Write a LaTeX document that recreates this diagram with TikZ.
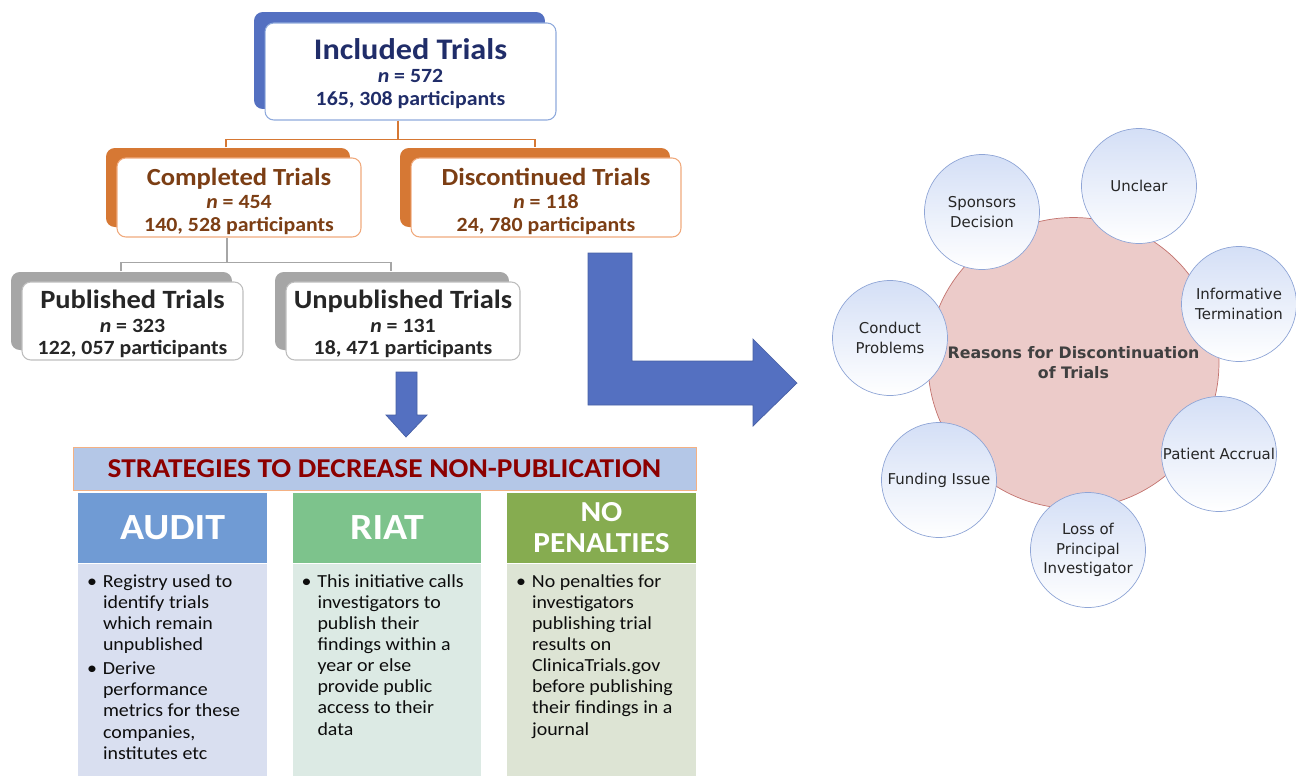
\documentclass[tikz,border=0pt]{standalone}
\usepackage{fontspec}
\setmainfont{Carlito}[FakeStretch=1.08]
\newfontfamily\verdana{DejaVu Sans}
\usepackage{xcolor}
\usetikzlibrary{positioning, calc, shadows}
\definecolor{incblue}{RGB}{84,112,193}
\definecolor{incline}{RGB}{143,170,220}
\definecolor{incnavy}{RGB}{32,45,105}
\definecolor{orgback}{RGB}{214,120,52}
\definecolor{orgline}{RGB}{240,170,125}
\definecolor{orgtext}{RGB}{124,62,20}
\definecolor{grayback}{RGB}{166,166,166}
\definecolor{grayline}{RGB}{190,190,190}
\definecolor{graytext}{RGB}{38,38,38}
\definecolor{bannerfill}{RGB}{180,199,231}
\definecolor{bannerline}{RGB}{244,177,131}
\definecolor{bannertext}{RGB}{140,0,0}
\definecolor{auditdark}{RGB}{112,155,212}
\definecolor{auditlight}{RGB}{217,223,240}
\definecolor{riatdark}{RGB}{125,195,140}
\definecolor{riatlight}{RGB}{220,234,228}
\definecolor{penaldark}{RGB}{134,172,80}
\definecolor{penallight}{RGB}{221,228,212}
\definecolor{reasonfill}{RGB}{236,203,201}
\definecolor{reasonline}{RGB}{195,115,110}
\definecolor{bubbletop}{RGB}{212,223,246}
\definecolor{bubbleline}{RGB}{143,165,214}
\definecolor{bubbletext}{RGB}{38,38,38}
\newcommand{\bodyfont}{\fontsize{10.5}{12}\selectfont}

\begin{document}
\begin{tikzpicture}[
    x=0.02cm, y=-0.02cm,
    trialbox/.style  = {draw, rounded corners=5pt, fill=white, align=center,
                        inner sep=0pt, line width=0.6pt,
                        font=\bfseries\fontsize{11.5}{13}\selectfont},
    incbox/.style    = {trialbox, draw=incline, text=incnavy,
                        general shadow={fill=incblue, shadow xshift=-0.22cm, shadow yshift=0.22cm}},
    orgbox/.style    = {trialbox, draw=orgline, text=orgtext,
                        general shadow={fill=orgback, shadow xshift=-0.22cm, shadow yshift=0.2cm}},
    graybox/.style   = {trialbox, draw=grayline, text=graytext,
                        general shadow={fill=grayback, shadow xshift=-0.22cm, shadow yshift=0.2cm}},
    orgsplit/.style  = {draw=orgback, line width=0.6pt},
    graysplit/.style = {draw=grayback, line width=0.6pt},
    blockarrow/.style= {fill=incblue, draw=incblue!85!black, line width=0.4pt},
    colhead/.style   = {minimum width=3.78cm, minimum height=1.4cm, inner sep=0pt,
                        text=white, align=center, font=\bfseries\fontsize{21}{22}\selectfont},
    colbody/.style   = {minimum width=3.78cm, minimum height=4.24cm, inner sep=0pt},
    bullets/.style   = {anchor=north west, inner sep=0pt, text=black!95, font=\bodyfont},
    bubble/.style    = {circle, draw=bubbleline, top color=bubbletop, bottom color=white,
                        minimum size=2.3cm, inner sep=0pt, align=center, text=bubbletext,
                        font=\verdana\fontsize{8.5}{11.3}\selectfont},
  ]
  \useasboundingbox (0,0) rectangle (1296,775);

  % trial boxes
  \node[incbox, minimum width=5.82cm, minimum height=1.94cm] (incl) at (410.5,71.5)
    {\rule{0pt}{14pt}{\fontsize{17}{20}\selectfont Included Trials}\\ \textit{n} = 572\\ 165, 308 participants};
  \node[orgbox, minimum width=4.88cm, minimum height=1.58cm] (compl) at (239,197.5)
    {\rule{0pt}{14pt}{\fontsize{14}{16}\selectfont Completed Trials}\\ \textit{n} = 454\\ 140, 528 participants};
  \node[orgbox, minimum width=5.4cm, minimum height=1.58cm] (disc) at (546,197.5)
    {\rule{0pt}{14pt}{\fontsize{14}{16}\selectfont Discontinued Trials}\\ \textit{n} = 118\\ 24, 780 participants};
  \node[graybox, minimum width=4.42cm, minimum height=1.56cm] (publ) at (132.5,321)
    {\rule{0pt}{14pt}{\fontsize{15}{17}\selectfont Published Trials}\\[0.5pt] \textit{n} = 323\\ 122, 057 participants};
  \node[graybox, minimum width=4.68cm, minimum height=1.56cm] (unpubl) at (403,321)
    {\rule{0pt}{14pt}{\fontsize{15}{17}\selectfont Unpublished Trials}\\[0.5pt] \textit{n} = 131\\ 18, 471 participants};

  % splits
  \draw[orgsplit] ([xshift=-0.25cm]incl.south) -- ++(0,19) coordinate (split1);
  \draw[orgsplit] ([xshift=-0.26cm, yshift=0.2cm]compl.north) |- (split1)
                  -| ([xshift=-0.22cm, yshift=0.2cm]disc.north);
  \draw[graysplit] ([xshift=-0.24cm]compl.south) -- ++(0,25) coordinate (split2);
  \draw[graysplit] ([xshift=-0.23cm, yshift=0.2cm]publ.north) |- (split2)
                   -| ([xshift=-0.24cm, yshift=0.2cm]unpubl.north);

  % block arrows
  \filldraw[blockarrow] (396,372) -- (417,372) -- (417,415) -- (427,415)
    -- (406,437) -- (386,415) -- (396,415) -- cycle;
  \filldraw[blockarrow] (588,253) -- (632,253) -- (632,361) -- (753,361) -- (753,339)
    -- (797,383) -- (753,426) -- (753,405) -- (588,405) -- cycle;

  % strategies
  \node[draw=bannerline, fill=bannerfill, minimum width=12.46cm, minimum height=0.86cm,
        inner sep=0pt, text=bannertext, font=\bfseries\fontsize{15.5}{18}\selectfont]
    (banner) at (384.5,468.5) {STRATEGIES TO DECREASE NON-PUBLICATION};

  \node[colhead, fill=auditdark] (audit) at (172.5,528) {AUDIT};
  \node[colhead, fill=riatdark] (riat) at (387,528) {RIAT};
  \node[colhead, fill=penaldark, font=\bfseries\fontsize{16.5}{17.6}\selectfont]
    (penal) at (601.5,528) {NO\\PENALTIES};
  \node[colbody, fill=auditlight, below=0pt of audit] (auditbody) {};
  \node[colbody, fill=riatlight, below=0pt of riat] (riatbody) {};
  \node[colbody, fill=penallight, below=0pt of penal] (penalbody) {};

  \node[bullets] (audittxt) at ([xshift=0.18cm, yshift=-0.18cm]auditbody.north west)
    {\begin{tabular}{@{}p{0.32cm}@{}l@{}}
      \textbullet & Registry used to\\
      & identify trials\\
      & which remain\\
      & unpublished\\[1.7pt]
      \textbullet & Derive\\
      & performance\\
      & metrics for these\\
      & companies,\\
      & institutes etc
    \end{tabular}};
  \node[bullets] (riattxt) at ([xshift=0.18cm, yshift=-0.18cm]riatbody.north west)
    {\begin{tabular}{@{}p{0.32cm}@{}l@{}}
      \textbullet & This initiative calls\\
      & investigators to\\
      & publish their\\
      & findings within a\\
      & year or else\\
      & provide public\\
      & access to their\\
      & data
    \end{tabular}};
  \node[bullets] (penaltxt) at ([xshift=0.18cm, yshift=-0.18cm]penalbody.north west)
    {\begin{tabular}{@{}p{0.32cm}@{}l@{}}
      \textbullet & No penalties for\\
      & investigators\\
      & publishing trial\\
      & results on\\
      & ClinicaTrials.gov\\
      & before publishing\\
      & their findings in a\\
      & journal
    \end{tabular}};

  % reasons
  \node[circle, draw=reasonline, fill=reasonfill, minimum size=5.82cm, inner sep=0pt,
        align=center, text=black!75, font=\verdana\bfseries\fontsize{9}{11.4}\selectfont]
    (reasons) at (1073.5,363) {Reasons for Discontinuation\\of Trials};
  \node[bubble] (sponsor) at (982,212) {Sponsors\\Decision};
  \node[bubble] (unclear) at (1139,186) {Unclear};
  \node[bubble] (inform)  at (1239,304) {Informative\\Termination};
  \node[bubble] (conduct) at (890,338) {Conduct\\Problems};
  \node[bubble] (accrual) at (1219,454) {Patient Accrual};
  \node[bubble] (funding) at (939,480) {Funding Issue};
  \node[bubble] (loss)    at (1088,550) {Loss of\\Principal\\Investigator};
\end{tikzpicture}
\end{document}
